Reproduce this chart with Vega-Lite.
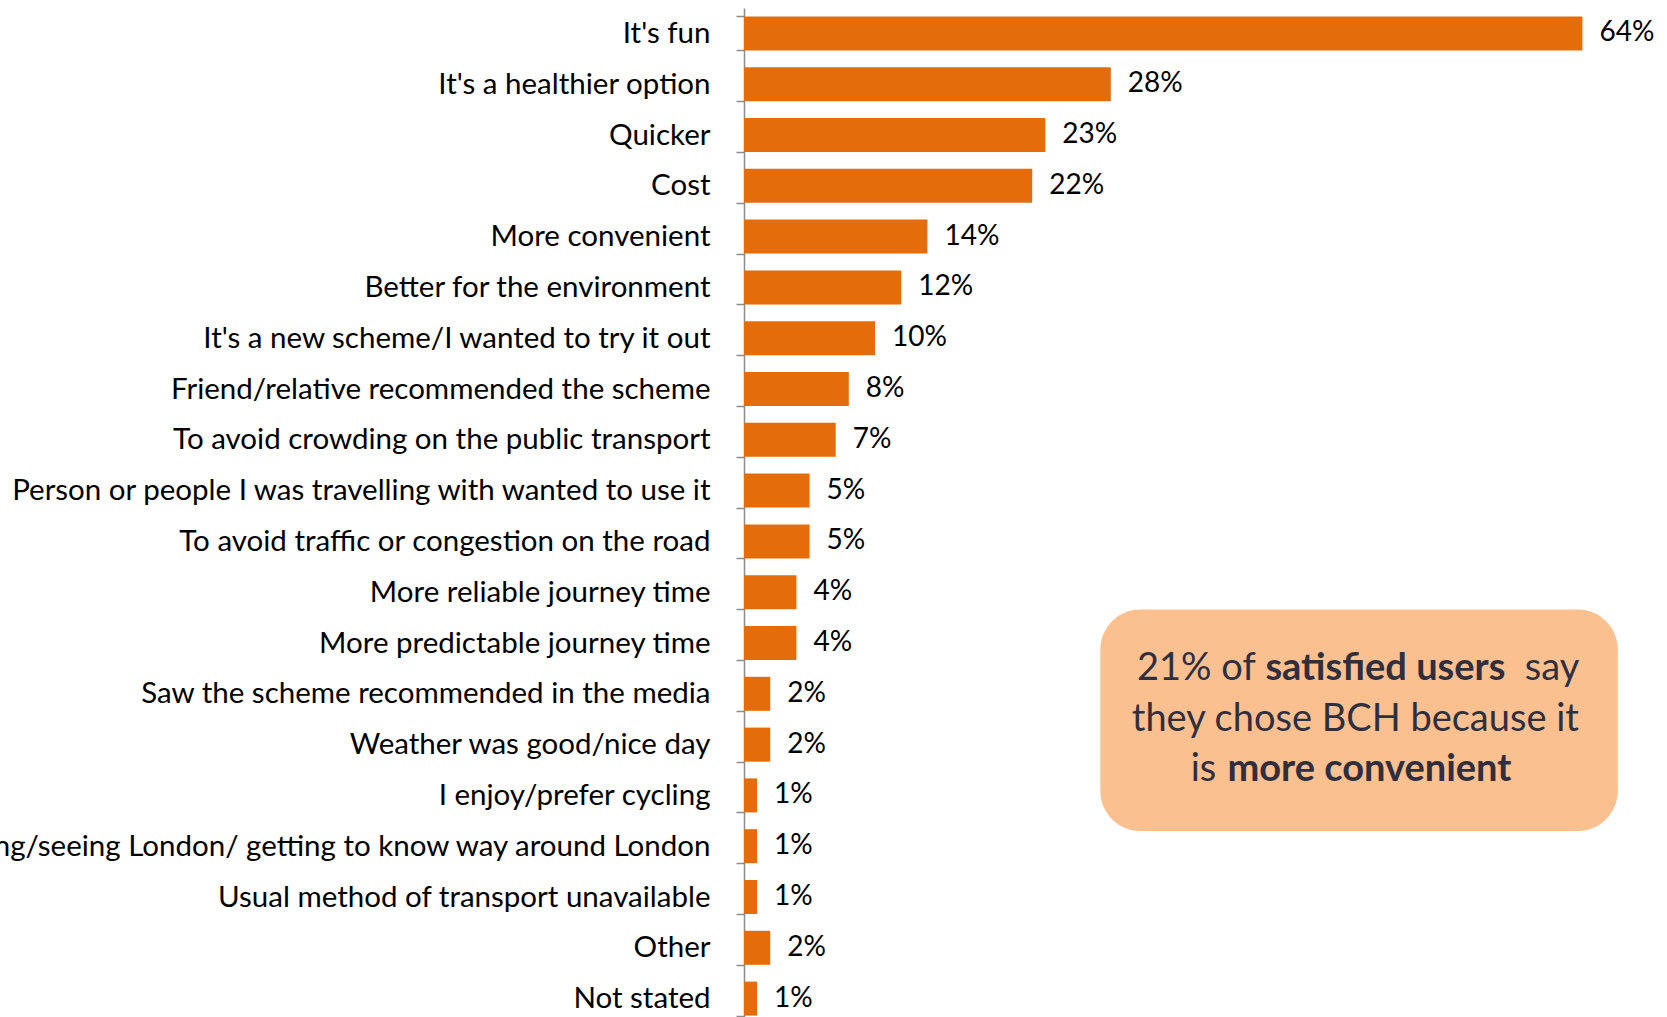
{
  "$schema": "https://vega.github.io/schema/vega-lite/v6.json",
  "autosize": {"type": "none"},
  "padding": {"left": 744, "top": 8, "right": 0, "bottom": 0},
  "width": 917,
  "height": 1016,
  "background": "white",
  "config": {"view": {"stroke": null}},
  "datasets": {
    "bars": [
      {"reason": "It's fun", "pct": 64, "label": "64%"},
      {"reason": "It's a healthier option", "pct": 28, "label": "28%"},
      {"reason": "Quicker", "pct": 23, "label": "23%"},
      {"reason": "Cost", "pct": 22, "label": "22%"},
      {"reason": "More convenient", "pct": 14, "label": "14%"},
      {"reason": "Better for the environment", "pct": 12, "label": "12%"},
      {"reason": "It's a new scheme/I wanted to try it out", "pct": 10, "label": "10%"},
      {"reason": "Friend/relative recommended the scheme", "pct": 8, "label": "8%"},
      {"reason": "To avoid crowding on the public transport", "pct": 7, "label": "7%"},
      {"reason": "Person or people I was travelling with wanted to use it", "pct": 5, "label": "5%"},
      {"reason": "To avoid traffic or congestion on the road", "pct": 5, "label": "5%"},
      {"reason": "More reliable journey time", "pct": 4, "label": "4%"},
      {"reason": "More predictable journey time", "pct": 4, "label": "4%"},
      {"reason": "Saw the scheme recommended in the media", "pct": 2, "label": "2%"},
      {"reason": "Weather was good/nice day", "pct": 2, "label": "2%"},
      {"reason": "I enjoy/prefer cycling", "pct": 1, "label": "1%"},
      {"reason": "Exploring/seeing London/ getting to know way around London", "pct": 1, "label": "1%"},
      {"reason": "Usual method of transport unavailable", "pct": 1, "label": "1%"},
      {"reason": "Other", "pct": 2, "label": "2%"},
      {"reason": "Not stated", "pct": 1, "label": "1%"}
    ],
    "box": [{"x0": 27.2, "x1": 66.7, "y0": 11.84, "y1": 16.2}],
    "note": [
      {"text": "21% of", "col": 30.0, "line": 13.02, "emphasis": "normal"},
      {"text": "satisfied users", "col": 39.8, "line": 13.02, "emphasis": "bold"},
      {"text": "say", "col": 59.6, "line": 13.02, "emphasis": "normal"},
      {"text": "they chose BCH because it", "col": 29.6, "line": 14.02, "emphasis": "normal"},
      {"text": "is", "col": 34.1, "line": 15.0, "emphasis": "normal"},
      {"text": "more convenient", "col": 36.9, "line": 15.0, "emphasis": "bold"}
    ]
  },
  "layer": [
    {
      "data": {"name": "bars"},
      "encoding": {
        "y": {
          "field": "reason",
          "type": "nominal",
          "sort": null,
          "scale": {"paddingInner": 0.33, "paddingOuter": 0.165},
          "axis": {
            "title": null,
            "domainColor": "#8c8c8c",
            "domainWidth": 1.5,
            "tickColor": "#8c8c8c",
            "tickWidth": 1.5,
            "tickSize": 8,
            "tickBand": "extent",
            "labelFont": "Lato",
            "labelFontSize": 29.5,
            "labelColor": "#000000",
            "labelPadding": 26,
            "labelLimit": 2000
          }
        },
        "x": {
          "field": "pct",
          "type": "quantitative",
          "scale": {"domain": [0, 70]},
          "axis": null
        }
      },
      "layer": [
        {"mark": {"type": "bar", "color": "#E46C0A"}},
        {
          "mark": {"type": "text", "align": "left", "baseline": "middle", "dx": 17, "font": "Lato", "fontSize": 28, "color": "#000000"},
          "encoding": {"text": {"field": "label"}}
        }
      ]
    },
    {
      "layer": [
        {
          "data": {"name": "box"},
          "mark": {"type": "rect", "color": "#FAC090", "cornerRadius": 40},
          "encoding": {
            "x": {"field": "x0", "type": "quantitative"},
            "x2": {"field": "x1"},
            "y": {"field": "y0", "type": "quantitative", "scale": {"domain": [0, 20], "reverse": true}, "axis": null},
            "y2": {"field": "y1"}
          }
        },
        {
          "data": {"name": "note"},
          "transform": [{"filter": "datum.emphasis == 'normal'"}],
          "mark": {"type": "text", "align": "left", "baseline": "middle", "font": "Lato", "fontSize": 38, "color": "#2F2F3F"},
          "encoding": {
            "x": {"field": "col", "type": "quantitative"},
            "y": {"field": "line", "type": "quantitative"},
            "text": {"field": "text"}
          }
        },
        {
          "data": {"name": "note"},
          "transform": [{"filter": "datum.emphasis == 'bold'"}],
          "mark": {"type": "text", "align": "left", "baseline": "middle", "font": "Lato", "fontSize": 38, "fontWeight": "bold", "color": "#2F2F3F"},
          "encoding": {
            "x": {"field": "col", "type": "quantitative"},
            "y": {"field": "line", "type": "quantitative"},
            "text": {"field": "text"}
          }
        }
      ]
    }
  ],
  "resolve": {"scale": {"y": "independent"}}
}
